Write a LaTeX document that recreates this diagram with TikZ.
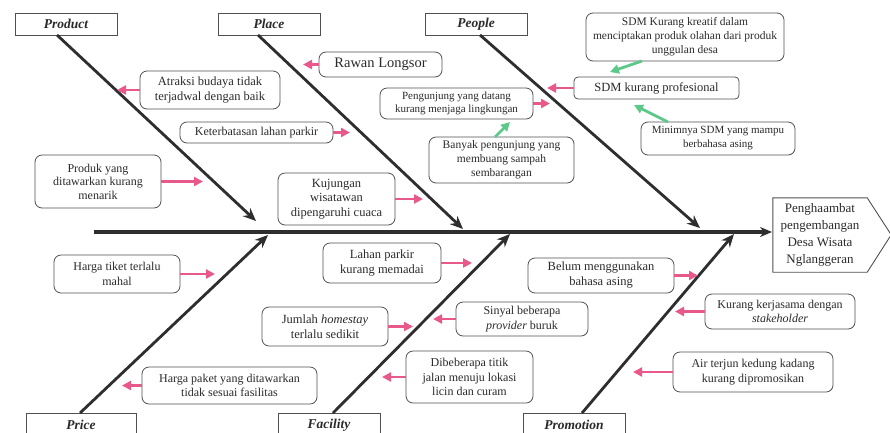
\documentclass[tikz,border=0pt]{standalone}
\usepackage{fontspec}
\setmainfont{Liberation Serif}
\usetikzlibrary{arrows.meta}
\definecolor{pinkc}{HTML}{E8588A}
\definecolor{greenc}{HTML}{5CC98A}
\definecolor{bonec}{HTML}{2E2E2E}
\definecolor{edgec}{HTML}{505050}
\definecolor{txtc}{HTML}{2A2A2A}
\tikzset{
 cause/.style={draw=edgec, line width=0.8pt, rounded corners=7pt, align=center, inner sep=2pt, text=txtc, font=\fontsize{12}{14.5}\selectfont},
 catlabel/.style={draw=edgec, line width=0.9pt, minimum height=22pt, minimum width=102pt, text=txtc, font=\fontsize{13.5}{16}\selectfont\bfseries\itshape},
 headtext/.style={align=center, text=txtc, minimum width=94pt, minimum height=74pt, inner sep=0pt, font=\fontsize{13}{17}\selectfont},
 bone/.style={draw=bonec, line width=2.8pt, -{Stealth[length=13pt,width=11pt]}},
 spinel/.style={draw=bonec, line width=3.2pt, -{Stealth[length=12pt,width=10pt]}},
 pinkarrow/.style={draw=pinkc, line width=2.8pt, -{Triangle[length=9pt,width=9pt]}},
 greenarrow/.style={draw=greenc, line width=2.8pt, -{Triangle[length=9pt,width=9pt]}},
}
\begin{document}
\begin{tikzpicture}[x=1pt,y=-1pt]
\clip (0,0) rectangle (890,432);
\fill[white] (0,0) rectangle (890,432);

% category labels
\node[catlabel] (product) at (66,24) {Product};
\node[catlabel] (place) at (269,24) {Place};
\node[catlabel] (people) at (476,24) {People};
\node[catlabel, minimum width=110pt, minimum height=24pt] (price) at (81,425) {Price};
\node[catlabel, minimum height=24pt] (facility) at (329,425) {Facility};
\node[catlabel, minimum height=24pt] (promotion) at (574,425) {Promotion};

% head
\node[headtext] (head) at (820,235) {Penghaambat\\pengembangan\\Desa Wisata\\Nglanggeran};
\draw[edgec, line width=0.9pt] (head.north west) -- (head.north east) -- ++(24,37) -- (head.south east) -- (head.south west) -- cycle;

% spine
\coordinate (spinestart) at (94,232);
\coordinate (spineend) at (772,232);
\draw[spinel] (spinestart) -- (spineend);

% bones
\coordinate (b1s) at (57,35);  \coordinate (b1e) at (256,221);
\coordinate (b2s) at (258,35); \coordinate (b2e) at (463,229);
\coordinate (b3s) at (480,35); \coordinate (b3e) at (700,228);
\coordinate (b4s) at (80,413); \coordinate (b4e) at (268,235);
\coordinate (b5s) at (333,413); \coordinate (b5e) at (510,234);
\coordinate (b6s) at (582,413); \coordinate (b6e) at (734,234);
\draw[bone] (b1s) -- (b1e);
\draw[bone] (b2s) -- (b2e);
\draw[bone] (b3s) -- (b3e);
\draw[bone] (b4s) -- (b4e);
\draw[bone] (b5s) -- (b5e);
\draw[bone] (b6s) -- (b6e);

% cause boxes
\node[cause, minimum width=140pt, minimum height=38pt, font=\fontsize{12.5}{15}\selectfont] (atraksi) at (210,90) {Atraksi budaya tidak\\terjadwal dengan baik};
\node[cause, minimum width=153pt, minimum height=21pt] (keterbatasan) at (256.5,132.5) {Keterbatasan lahan parkir};
\node[cause, minimum width=126pt, minimum height=53pt, font=\fontsize{12}{13.5}\selectfont] (produk) at (98,181.5) {Produk yang\\ditawarkan kurang\\menarik};
\node[cause, minimum width=123pt, minimum height=25pt, font=\fontsize{14.5}{16}\selectfont] (rawan) at (380.5,64.5) {Rawan Longsor};
\node[cause, minimum width=117pt, minimum height=52pt, font=\fontsize{12.5}{14.5}\selectfont] (kujungan) at (336.5,199) {Kujungan\\wisatawan\\dipengaruhi cuaca};
\node[cause, minimum width=153pt, minimum height=31pt, font=\fontsize{11}{13.5}\selectfont] (pengunjung) at (456.5,103.5) {Pengunjung yang datang\\kurang menjaga lingkungan};
\node[cause, minimum width=145pt, minimum height=46pt, font=\fontsize{11.5}{14}\selectfont] (banyak) at (501.5,160) {Banyak pengunjung yang\\membuang sampah\\sembarangan};
\node[cause, minimum width=198pt, minimum height=48pt, font=\fontsize{11.5}{14}\selectfont] (sdmkreatif) at (685,37) {SDM Kurang kreatif dalam\\menciptakan produk olahan dari produk\\unggulan desa};
\node[cause, minimum width=165pt, minimum height=22pt, rounded corners=4pt, font=\fontsize{12.5}{15}\selectfont] (sdmprof) at (656.5,88) {SDM kurang profesional};
\node[cause, minimum width=154pt, minimum height=33pt, font=\fontsize{11}{14}\selectfont] (minimnya) at (718,138.5) {Minimnya SDM yang mampu\\berbahasa asing};
\node[cause, minimum width=126pt, minimum height=38pt] (hargatiket) at (117,274) {Harga tiket terlalu\\mahal};
\node[cause, minimum width=175pt, minimum height=37pt] (hargapaket) at (229.5,385.5) {Harga paket yang ditawarkan\\tidak sesuai fasilitas};
\node[cause, minimum width=118pt, minimum height=40pt, font=\fontsize{12.5}{15}\selectfont] (lahan) at (382,263) {Lahan parkir\\kurang memadai};
\node[cause, minimum width=126pt, minimum height=39pt, font=\fontsize{12.5}{15}\selectfont] (jumlah) at (325,326.5) {Jumlah \textit{homestay}\\terlalu sedikit};
\node[cause, minimum width=132pt, minimum height=34pt] (sinyal) at (522,319) {Sinyal beberapa\\\textit{provider} buruk};
\node[cause, minimum width=127pt, minimum height=52pt] (dibeberapa) at (469.5,377) {Dibeberapa titik\\jalan menuju lokasi\\licin dan curam};
\node[cause, minimum width=146pt, minimum height=35pt, font=\fontsize{12.5}{15}\selectfont] (belum) at (601,275.5) {Belum menggunakan\\bahasa asing};
\node[cause, minimum width=150pt, minimum height=35pt] (kurangkerja) at (780,311.5) {Kurang kerjasama dengan\\\textit{stakeholder}};
\node[cause, minimum width=160pt, minimum height=40pt] (airterjun) at (753,372) {Air terjun kedung kadang\\kurang dipromosikan};

% pink arrows
\coordinate (p1) at (117,90);
\coordinate (p2) at (350,132.5);
\coordinate (p3) at (203,181.5);
\coordinate (p4) at (303,64.5);
\coordinate (p5) at (423,199);
\coordinate (p6) at (550,103.5);
\coordinate (p7) at (547,88);
\coordinate (p8) at (215,274);
\coordinate (p9) at (122,385.5);
\coordinate (p10) at (472,263);
\coordinate (p11) at (413,326.5);
\coordinate (p12) at (433,319);
\coordinate (p13) at (382,377);
\coordinate (p14) at (698,275.5);
\coordinate (p15) at (675,311.5);
\coordinate (p16) at (633,372);
\draw[pinkarrow] (atraksi.west) -- (p1);
\draw[pinkarrow] (keterbatasan.east) -- (p2);
\draw[pinkarrow] (produk.east) -- (p3);
\draw[pinkarrow] (rawan.west) -- (p4);
\draw[pinkarrow] (kujungan.east) -- (p5);
\draw[pinkarrow] (pengunjung.east) -- (p6);
\draw[pinkarrow] (sdmprof.west) -- (p7);
\draw[pinkarrow] (hargatiket.east) -- (p8);
\draw[pinkarrow] (hargapaket.west) -- (p9);
\draw[pinkarrow] (lahan.east) -- (p10);
\draw[pinkarrow] (jumlah.east) -- (p11);
\draw[pinkarrow] (sinyal.west) -- (p12);
\draw[pinkarrow] (dibeberapa.west) -- (p13);
\draw[pinkarrow] (belum.east) -- (p14);
\draw[pinkarrow] (kurangkerja.west) -- (p15);
\draw[pinkarrow] (airterjun.west) -- (p16);

% green arrows
\coordinate (g1s) at (495,137); \coordinate (g1e) at (510,122);
\coordinate (g2s) at (642,61);  \coordinate (g2e) at (610,72);
\coordinate (g3s) at (668,122); \coordinate (g3e) at (634,105);
\draw[greenarrow] (g1s) -- (g1e);
\draw[greenarrow] (g2s) -- (g2e);
\draw[greenarrow] (g3s) -- (g3e);
\end{tikzpicture}
\end{document}
